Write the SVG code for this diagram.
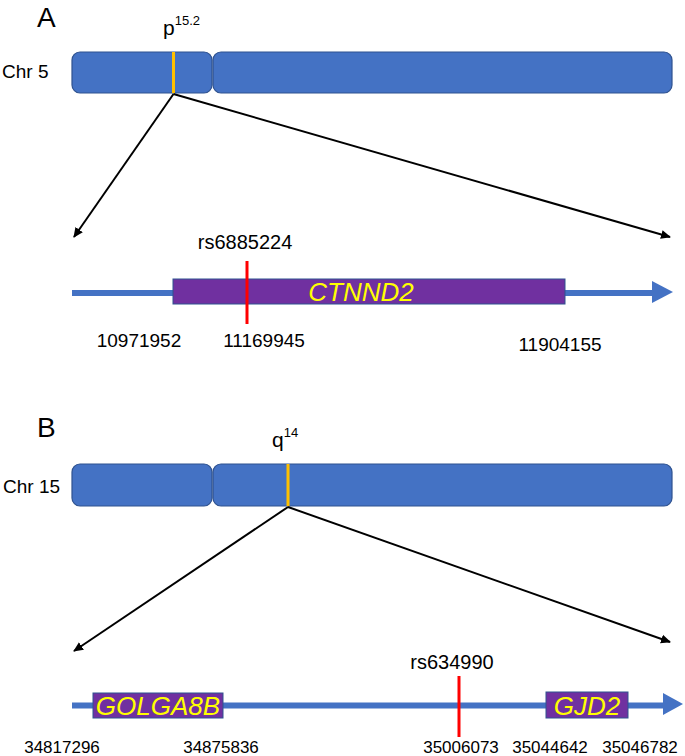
<svg xmlns="http://www.w3.org/2000/svg" width="685" height="756" viewBox="0 0 685 756">
<style>
text{font-family:"Liberation Sans",Arial,sans-serif;fill:#000}
.chr{fill:#4472C4;stroke:#2F528F;stroke-width:1.2}
.band{stroke:#FFC000;stroke-width:3}
.gline{stroke:#4472C4;stroke-width:6}
.gene{fill:#7030A0;stroke:#2F528F;stroke-width:1}
.gname{fill:#FFFF00;font-style:italic;font-size:26px}
.snp{stroke:#FF0000;stroke-width:3}
.conn{stroke:#000;stroke-width:2;fill:none;marker-end:url(#ah)}
.num{font-size:19px}
.numb{font-size:17px}
.lbl{font-size:20px}
</style>
<defs>
<marker id="ah" markerWidth="12" markerHeight="12" refX="9" refY="5.5" orient="auto" markerUnits="userSpaceOnUse">
<path d="M0,1 L10,5.5 L0,10 Z" fill="#000"/>
</marker>
</defs>
<g id="panelA">
<text x="37" y="27" font-size="28">A</text>
<g id="chr5">
<text x="2" y="78" font-size="19">Chr 5</text>
<rect class="chr" x="72" y="52" width="140" height="41" rx="8"/>
<rect class="chr" x="213" y="52" width="459" height="41" rx="8"/>
<line class="band" x1="173.5" y1="52" x2="173.5" y2="93"/>
<text x="163" y="35" font-size="21">p<tspan font-size="13" dy="-10">15.2</tspan></text>
</g>
<g id="geneA">
<line class="gline" x1="72" y1="293" x2="655" y2="293"/>
<path d="M652,281 L673,292 L652,303 Z" fill="#4472C4"/>
<rect class="gene" x="173" y="279" width="392" height="25"/>
<text class="gname" x="361" y="301" text-anchor="middle">CTNND2</text>
<line class="snp" x1="247" y1="261" x2="247" y2="324"/>
<text class="lbl" x="245" y="249" text-anchor="middle">rs6885224</text>
<text class="num" x="139" y="347" text-anchor="middle">10971952</text>
<text class="num" x="264" y="347" text-anchor="middle">11169945</text>
<text class="num" x="560" y="351" text-anchor="middle">11904155</text>
</g>
</g>
<g id="panelB">
<text x="37" y="437" font-size="28">B</text>
<g id="chr15">
<text x="3" y="493" font-size="19">Chr 15</text>
<rect class="chr" x="72" y="464" width="140" height="42" rx="8"/>
<rect class="chr" x="213" y="464" width="459" height="42" rx="8"/>
<line class="band" x1="288" y1="464" x2="288" y2="506"/>
<text x="272" y="447" font-size="21">q<tspan font-size="13" dy="-10">14</tspan></text>
</g>
<g id="geneB">
<line class="gline" x1="72" y1="705.5" x2="666" y2="705.5"/>
<path d="M663,693 L683,704 L663,715 Z" fill="#4472C4"/>
<g id="golga8b">
<rect class="gene" x="93" y="693" width="130" height="25"/>
<text class="gname" x="158" y="715" text-anchor="middle">GOLGA8B</text>
</g>
<g id="gjd2">
<rect class="gene" x="546" y="692" width="82" height="26"/>
<text class="gname" x="587" y="715" text-anchor="middle">GJD2</text>
</g>
<line class="snp" x1="459" y1="676" x2="459" y2="737"/>
<text class="lbl" x="452" y="669" text-anchor="middle">rs634990</text>
<text class="numb" x="62" y="753" text-anchor="middle">34817296</text>
<text class="numb" x="221" y="753" text-anchor="middle">34875836</text>
<text class="numb" x="461" y="753" text-anchor="middle">35006073</text>
<text class="numb" x="550" y="753" text-anchor="middle">35044642</text>
<text class="numb" x="640" y="753" text-anchor="middle">35046782</text>
</g>
</g>
<g id="connectors">
<line class="conn" x1="173.5" y1="94" x2="74" y2="237"/>
<line class="conn" x1="173.5" y1="94" x2="670" y2="237"/>
<line class="conn" x1="288" y1="507" x2="74" y2="651"/>
<line class="conn" x1="288" y1="507" x2="670" y2="642"/>
</g>
</svg>
